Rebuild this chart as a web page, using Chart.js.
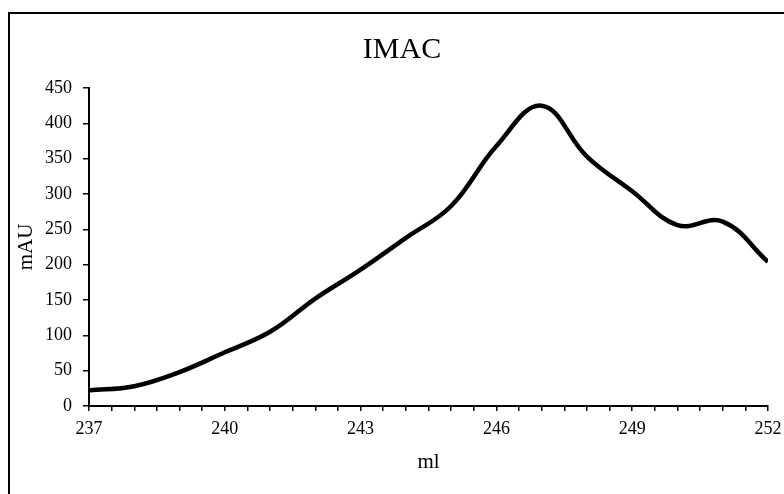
<!DOCTYPE html>
<html>
<head>
<meta charset="utf-8">
<script src="https://cdn.jsdelivr.net/npm/chart.js@4"></script>
<style>
  html, body { margin: 0; padding: 0; background: #fff; overflow: hidden; }
  .frame { position: absolute; left: 8px; top: 12px; width: 900px; height: 600px;
           border-left: 2px solid #000; border-top: 2px solid #000; }
  .wrap { position: absolute; left: 0; top: 0; width: 784px; height: 494px; }
</style>
</head>
<body>
<div class="frame"></div>
<div class="wrap"><canvas class="graf" width="784" height="494"></canvas></div>
<script>
// Data
const volume = [237, 238, 239, 240, 241, 242, 243, 244, 245, 246, 247, 248, 249, 250, 251, 252]
const absorbance = [22, 28, 48, 76, 105, 152, 193, 238, 283, 368, 425, 353, 304, 256, 261, 204]
const xLabels = [237, 240, 243, 246, 249, 252]

let points = []
for(let i = 0; i<volume.length; i++){
  points.push({x: volume[i], y: absorbance[i]})
}

Chart.defaults.color = '#000';
Chart.defaults.font.family = '"Liberation Serif", "Times New Roman", serif';

var ctx = document.querySelector('.graf');
var myChart = new Chart(ctx, {
    type: 'line',
    data: {
        datasets: [{
            label: 'IMAC',
            data: points,
            borderColor: '#000',
            borderWidth: 4.5,
            tension: 0.4,
            pointRadius: 0,
            fill: false,
        }]
    },
    options: {
        responsive: false,
        animation: false,
        // left padding shifts the title centre to where the frame centre is
        layout: { padding: { left: 20, right: 0 } },
        scales: {
            x: {
                type: 'linear',
                min: 237,
                max: 252,
                border: { color: '#000', width: 2 },
                grid: {
                  drawOnChartArea: false,
                  color: '#000',
                  lineWidth: 1.5,
                  tickLength: 5,
                },
                ticks: {
                  stepSize: 0.5,
                  autoSkip: false,
                  maxRotation: 0,
                  padding: 7,
                  font: { size: 18 },
                  callback: function(v){
                    return xLabels.includes(v) ? String(v) : ''
                  }
                },
                title: {
                  display: true,
                  text: 'ml',
                  font: { size: 21 },
                  padding: { top: 0, bottom: 19 }
                },
                afterFit: function(s){
                  s.height = 88
                  s.paddingRight = 16
                }
            },
            y: {
                min: 0,
                max: 450,
                border: { color: '#000', width: 2 },
                grid: {
                  drawOnChartArea: false,
                  color: '#000',
                  lineWidth: 1.5,
                  tickLength: 6,
                },
                ticks: {
                  stepSize: 50,
                  padding: 11,
                  font: { size: 18 },
                },
                title: {
                  display: true,
                  text: 'mAU',
                  font: { size: 21 },
                  padding: { top: -6, bottom: 0 }
                },
                afterFit: function(s){ s.width = 69 }
            },
        },
        plugins: {
            legend: { display: false },
            tooltip: { enabled: false },
            title: {
                display: true,
                text: 'IMAC',
                font: { size: 30, weight: 'normal' },
                padding: { top: 32, bottom: 20 }
            },
        },
    }
});
</script>
</body>
</html>
